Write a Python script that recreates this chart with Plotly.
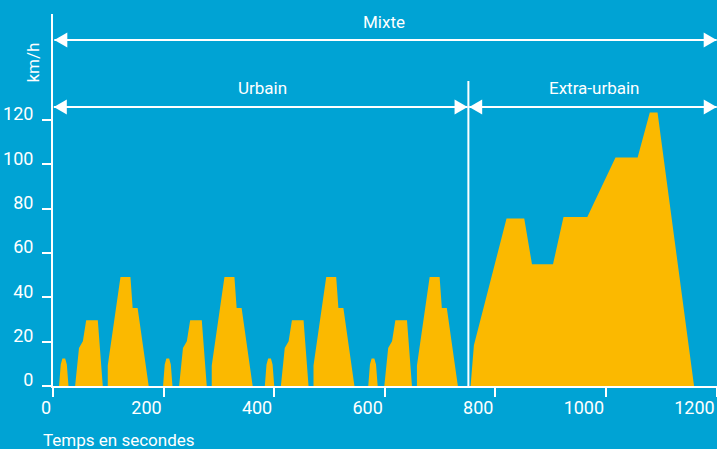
import plotly.graph_objects as go

# ---- data (time in s, speed in km/h) ----
urban1_t = [11, 14, 17, 22, 25, 28, 40, 47, 54, 60, 81, 90, 99, 99, 122, 140, 144, 153, 173]
urban2_t = [199, 202, 205, 210, 213, 216, 228, 235, 242, 248, 269, 278, 287, 287, 310, 328, 332, 341, 361]
urban3_t = [383, 386, 389, 394, 397, 400, 412, 419, 426, 432, 453, 462, 471, 471, 494, 512, 516, 525, 545]
urban4_t = [570, 573, 576, 581, 584, 587, 599, 606, 613, 619, 640, 649, 658, 658, 681, 699, 703, 712, 732]
urban_v = [0, 9.7, 12.4, 12.4, 9.7, 0, 0, 17.2, 20.2, 29.7, 29.7, 0, 0, 9.3, 49.2, 49.2, 35.2, 35.2, 0]

extra_t = [755, 761, 820, 852, 866, 904, 923, 966, 1017, 1057, 1079, 1093, 1159]
extra_v = [0, 18.4, 75.6, 75.6, 54.9, 54.9, 76.3, 76.3, 103.1, 103.1, 123.4, 123.4, 0]

x_ticks = [0, 200, 400, 600, 800, 1000, 1200]
y_ticks = [0, 20, 40, 60, 80, 100, 120]
boundary_t = 751

BG = "rgb(0,163,212)"
YEL = "rgb(251,185,0)"
WHITE = "white"
FONT = "Roboto"

time = urban1_t + urban2_t + urban3_t + urban4_t + extra_t
speed = urban_v * 4 + extra_v

fig = go.Figure()
fig.add_trace(go.Scatter(x=time, y=speed, mode="lines", fill="tozeroy",
                         fillcolor=YEL, line=dict(width=0, color=YEL),
                         hoverinfo="skip"))

axis_common = dict(showgrid=False, zeroline=False, showline=True, linecolor=WHITE,
                   linewidth=2, ticks="outside", ticklen=9, tickwidth=2,
                   tickcolor=WHITE, tickfont=dict(family=FONT, size=18, color=WHITE))

fig.update_layout(
    width=717, height=449,
    margin=dict(l=53, r=0, t=14, b=63),
    paper_bgcolor=BG, plot_bgcolor=BG, showlegend=False,
    font=dict(family=FONT, color=WHITE, size=17),
    xaxis=dict(range=[0, 1200.5], tickvals=x_ticks, ticklabelposition="outside left",
               ticklabelstandoff=4, **axis_common),
    yaxis=dict(range=[0, 167.9], tickvals=y_ticks, ticklabelposition="outside",
               ticklabelshift=-6, ticklabelstandoff=5, **axis_common),
)

shapes = []
# vertical boundary
shapes.append(dict(type="line", xref="x", yref="paper", x0=boundary_t, x1=boundary_t,
                   y0=0, y1=0.82, line=dict(color=WHITE, width=2)))

def harrow(x0, x1, xref, y):
    out = [dict(type="line", xref=xref, yref="paper", x0=x0, x1=x1, y0=y, y1=y,
                line=dict(color=WHITE, width=2))]
    out.append(dict(type="path", xref=xref, yref="paper", xsizemode="pixel", ysizemode="pixel",
                    xanchor=x0, yanchor=y, path="M0,0 L13,7.5 L13,-7.5 Z",
                    fillcolor=WHITE, line=dict(width=0)))
    out.append(dict(type="path", xref=xref, yref="paper", xsizemode="pixel", ysizemode="pixel",
                    xanchor=x1, yanchor=y, path="M0,0 L-13,7.5 L-13,-7.5 Z",
                    fillcolor=WHITE, line=dict(width=0)))
    return out

shapes += harrow(0.002, 0.9995, "paper", 0.930)
shapes += harrow(1.5, boundary_t - 1.5, "x", 0.75)
shapes += harrow(boundary_t + 1.5, 1200, "x", 0.75)
fig.update_layout(shapes=shapes)

ann = dict(showarrow=False, font=dict(family=FONT, size=17, color=WHITE))
fig.add_annotation(text="Mixte", xref="paper", yref="paper", x=0.498, y=0.978,
                   xanchor="center", yanchor="middle", **ann)
fig.add_annotation(text="Urbain", xref="paper", yref="paper", x=0.315, y=0.800,
                   xanchor="center", yanchor="middle", **ann)
fig.add_annotation(text="Extra-urbain", xref="paper", yref="paper", x=0.8148, y=0.800,
                   xanchor="center", yanchor="middle", **ann)
fig.add_annotation(text="km/h", xref="paper", yref="paper", x=-0.0316, y=0.8696,
                   xanchor="center", yanchor="middle", textangle=-90, **ann)
fig.add_annotation(text="Temps en secondes", xref="paper", yref="paper", x=-0.018, y=-0.145,
                   xanchor="left", yanchor="middle", **ann)

fig.write_html("out.html", config={"displayModeBar": False},
               post_script="document.body.style.margin='0';document.body.style.overflow='hidden';")
